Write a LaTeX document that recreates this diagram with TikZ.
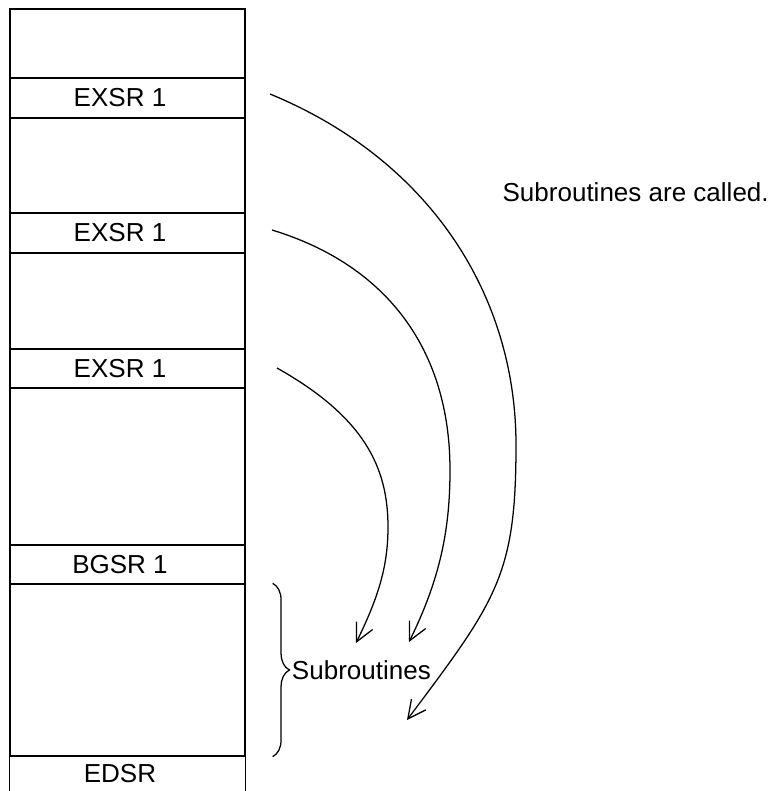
\documentclass[tikz,border=0pt]{standalone}
\usepackage{fontspec}
\setmainfont{Liberation Sans}
\usetikzlibrary{arrows.meta, calc, decorations.pathreplacing}

\begin{document}
\begin{tikzpicture}[x=0.025cm, y=-0.025cm, line width=0.9pt,
        font=\fontsize{18.5}{22}\selectfont,
        cell/.style={draw, inner sep=0pt, minimum width=5.875cm,
                     execute at begin node={\hspace*{-0.375cm}}},
        call/.style={-{Straight Barb[length=4.5mm, width=4.5mm]}}
    ]
        \useasboundingbox (0,0) rectangle (771,791);

        \node[cell, minimum height=1.725cm] (top)  at (127.5,43.5)  {};
        \node[cell, minimum height=1.0cm]   (ex1)  at (127.5,98)    {EXSR 1};
        \node[cell, minimum height=2.375cm] (gap1) at (127.5,165.5) {};
        \node[cell, minimum height=1.0cm]   (ex2)  at (127.5,233)   {EXSR 1};
        \node[cell, minimum height=2.4cm]   (gap2) at (127.5,301)   {};
        \node[cell, minimum height=0.975cm] (ex3)  at (127.5,368.5) {EXSR 1};
        \node[cell, minimum height=3.925cm] (gap3) at (127.5,466.5) {};
        \node[cell, minimum height=0.975cm] (bg)   at (127.5,564.5) {BGSR 1};
        \node[cell, minimum height=4.3cm]   (sub)  at (127.5,670)   {};
        \node[cell, draw=none, minimum height=0.875cm] (ed) at (127.5,773.5) {EDSR};
        \draw (ed.north west) -- (ed.south west) (ed.north east) -- (ed.south east);

        \coordinate (s1) at (270,94);
        \coordinate (s2) at (272,230);
        \coordinate (s3) at (277,368);
        \coordinate (e1) at (407,720);
        \coordinate (e2) at (409,642);
        \coordinate (e3) at (356,643);

        \draw[call] (s1) .. controls (430,160) and (516,295) .. (516,445)
                         .. controls (516,575) and (497,600) .. (e1);
        \draw[call] (s2) .. controls (387,265) and (450,350) .. (450,470)
                         .. controls (450,530) and (440,579) .. (e2);
        \draw[call] (s3) .. controls (364,417) and (388,467) .. (388,527)
                         .. controls (388,567) and (378,598) .. (e3);

        \draw[decorate, decoration={brace, amplitude=0.42cm}]
            ($(sub.north east)+(27,0)$) -- ($(sub.south east)+(27,0)$)
            node[midway, anchor=west, xshift=0.35cm] (sublbl) {Subroutines};

        \node[anchor=west, inner sep=0pt] (note) at (502,192) {Subroutines are called.};
    \end{tikzpicture}
\end{document}
